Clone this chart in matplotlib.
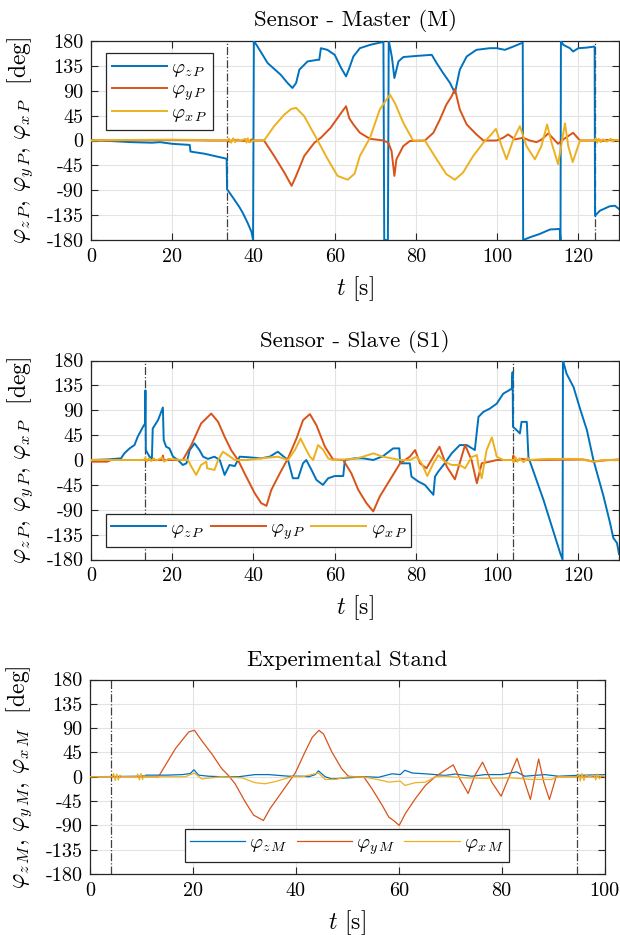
import matplotlib
matplotlib.use("Agg")
import matplotlib.pyplot as plt

plt.rcParams['font.family'] = ['cmr10', 'DejaVu Serif']
plt.rcParams['mathtext.fontset'] = 'cm'
plt.rcParams['axes.unicode_minus'] = False
plt.rcParams['axes.formatter.use_mathtext'] = True

C_BLUE = '#0072BD'
C_RED = '#D95319'
C_YEL = '#EDB120'

yticks = [180, 135, 90, 45, 0, -45, -90, -135, -180]
ytick_labels = ['180', '135', '90', '45', '0', '-45', '-90', '-135', '-180']
xticks_sensor = [0, 20, 40, 60, 80, 100, 120]
xticks_stand = [0, 20, 40, 60, 80, 100]

# ---------------- Panel 1: Sensor - Master (M) ----------------
m_z_t = [0, 5, 10, 15, 17, 19, 20, 24.3, 24.5, 28, 33.4, 33.5, 35.2, 36.5, 37.3, 38.5, 39.5, 39.9, 40.1, 41, 43.5,
         46.7, 48.4, 49.6, 50.5, 51.3, 53.3, 55.8, 56.2, 56.6, 58.2, 60, 61.6, 62.8, 63.6, 64.6, 66.2, 68.7, 71.1,
         72, 72.2, 73.1, 73.3, 73.6, 74.1, 74.7, 75.7, 76.9, 80.2, 83.9, 85.1, 86.7, 88.4, 89.6, 90.8, 92.5, 94.9,
         98.2, 99.9, 101.9, 104, 106.3, 106.4, 108.1, 110.5, 113, 115.4, 115.6, 115.7, 116.3, 117.9, 118.7, 120,
         122, 124, 124.1, 125.3, 127.7, 129, 130]
m_z_v = [0, -1, -3, -4, -3, -5, -6, -8, -20, -24, -33, -88, -106, -120, -130, -148, -165, -180, 180, 170, 140,
         119, 104, 95, 104, 128, 143, 146, 146, 167, 164, 155, 131, 116, 131, 152, 167, 173, 177,
         178, -180, -180, 180, 170, 150, 113, 143, 151, 153, 155, 140, 122, 104, 86, 128, 152, 164,
         167, 167, 164, 170, 177, -180, -175, -169, -161, -160, -180, 180, 173, 167, 161, 167,
         168, 170, -136, -127, -119, -118, -124]

m_y_t = [0, 10, 20, 30, 33.5, 34, 35, 38, 38.5, 39, 39.5, 40, 42.6, 45.1, 47.6, 49.4, 50.5, 52.5, 55, 56.6, 59,
         61.6, 62.8, 63.6, 64.6, 66.2, 68.7, 72, 73.2, 74, 74.7, 75.2, 76.9, 78.5, 82.2, 84.3, 85.9, 87.5, 88.8,
         89.6, 90.8, 92.5, 94.9, 96.6, 99.9, 101.5, 102.7, 104.4, 106.4, 108, 109.7, 111, 112.6, 115, 116.3,
         118.7, 120.4, 124, 125, 126, 127, 130]
m_y_v = [0, 0.5, 1, 0, 0, -2, 1, -1, 2, -3, 2, 0, 0, -28, -58, -82, -64, -28, -4, 5, 23,
         50, 62, 40, 29, 14, 3, 0, -4, -19, -64, -34, -10, -1, 0, 14, 38, 65, 80,
         93, 56, 29, 11, 0, 0, 5, 11, 2, 5, 0, -3, 2, 13, -6, 2,
         14, 0, 0, 1, -1, 1, 0]

m_x_t = [0, 10, 20, 30, 33.5, 34, 34.5, 35, 35.5, 36, 37, 38, 38.3, 38.6, 39, 40, 42.6, 45.1, 47.6, 49.3, 50.5,
         52.5, 55.8, 58.3, 60.7, 63.2, 64.9, 66.2, 68.7, 71.1, 73.6, 74.8, 76.9, 79.3, 82.2, 85.1, 87.5, 89.6,
         91.6, 94.1, 96.6, 98.2, 99.7, 101.1, 102.3, 104, 105.6, 107.2, 109.3, 110.9, 112.3, 113.4, 115, 116.7,
         117.5, 118.6, 120.4, 124, 124.3, 124.6, 125, 125.5, 126, 127, 128, 128.5, 129, 130]
m_x_v = [0, 1, 1.5, 0.5, 0, 3, -4, 4, -3, 2, 0, 3, -4, 4, -3, 0, 0, 26, 47, 57, 59,
         44, 0, -34, -64, -71, -60, -28, 5, 56, 83, 68, 32, 0, 0, -34, -61, -71,
         -58, -28, -4, 8, 21, -10, -34, 2, 26, -10, -34, -10, 29, -4, -43, 31,
         -10, -39, 0, 0, 4, -4, 3, -3, 2, -2, 3, -2, 1, 0]
m_marks = [33.5, 124]

# ---------------- Panel 2: Sensor - Slave (S1) ----------------
s_z_t = [0, 4.1, 7.4, 8.2, 9.5, 10.7, 11.5, 12.8, 13.3, 13.4, 13.5, 14.4, 15, 15.2, 16.5, 17.7, 17.9, 18.5, 19.3,
         20.2, 21.4, 22.6, 23.5, 24.3, 25.5, 26.7, 27.6, 28.8, 30.4, 31.7, 32.9, 34.1, 35.4, 36.6, 38.7, 41.9, 44,
         46, 47.3, 48.5, 49.7, 51, 52.2, 53, 54.3, 55.5, 57.1, 58.4, 60, 62.1, 62.5, 64.9, 67, 69.5, 71.9, 74.4,
         75.9, 76.1, 78.5, 78.9, 80.6, 82.2, 84.3, 84.7, 85.5, 87.1, 88.8, 90.8, 92.5, 94.5, 95.4, 96.6, 98.2,
         99.9, 101.5, 103.6, 103.8, 103.9, 104.8, 105.6, 106, 107.3, 107.7, 111.4, 115.5, 116.1, 116.2, 117.1,
         118.8, 120.4, 122.1, 123.7, 126.2, 127.8, 128.6, 129.5, 130]
s_z_v = [0, 1, 3, 12, 21, 27, 42, 60, 66, 126, 18, 6, 3, 57, 72, 95, 36, 24, 21,
         6, 0, -9, -6, 18, 30, 18, 6, 2, 6, 0, -27, -9, -11, 6, 5, 3, 6,
         15, 7, 0, -33, -33, -6, 0, -18, -36, -45, -33, -29, -29, 0, 3, 3, 0, 7, 21,
         21, -6, -6, -30, -39, -45, -63, -30, -21, -6, 12, 27, 27, 18, 78, 87, 93,
         102, 120, 129, 159, 60, 54, 48, 69, 69, 5, -72, -168, -180, 180, 156,
         132, 93, 54, 0, -66, -114, -141, -150, -170]

s_y_t = [0, 4, 5, 17.5, 17.7, 17.9, 22.6, 24.7, 27.1, 29.6, 31.3, 32.9, 34.5, 36.2, 37.8, 40.3, 41.9, 43.2, 44.4,
         46.5, 48.5, 50.6, 52.2, 53.9, 55.5, 57.6, 59.6, 62.1, 64.1, 65.8, 67.8, 69.5, 71.1, 73.6, 76.1, 78.5,
         79.8, 81, 82.6, 84.3, 85.8, 87.6, 89.6, 92.1, 93.7, 95, 96.2, 98.2, 99.9, 103.8, 104, 104.3, 106,
         108.1, 121.2, 123.7, 126, 130]
s_y_v = [-3, -3, 0, 0, 8, 0, 0, 27, 66, 84, 69, 42, 18, 0, -24, -60, -78, -83, -54,
         -24, 3, 39, 72, 83, 63, 24, 1, 0, -24, -54, -78, -93, -66, -36, -6, 6,
         18, -6, -15, 6, 24, -12, -35, 27, 0, -42, -6, -3, 0, 0, 8, -2, 2,
         0, 1, -3, -1, 1]

s_x_t = [0, 13, 13.4, 13.7, 14.2, 14.8, 15.5, 16, 17.5, 18, 19, 22.6, 23.9, 24.7, 25.9, 27.1, 28.4, 28.6, 30.4,
         31.3, 32.5, 33.7, 35.4, 38.7, 41.9, 46, 48.5, 50.2, 51.6, 52.6, 53.9, 54.7, 55.9, 57.1, 58.4, 59.6, 64.9,
         67, 69.5, 71.9, 76.1, 78.5, 80.2, 81.4, 82.8, 84.3, 85.5, 87.1, 88.8, 90.8, 92.1, 93.7, 95, 95.4, 96.2,
         97.4, 98.7, 99.9, 101.5, 103.8, 104, 104.5, 105, 105.5, 106.5, 107.5, 108, 112, 120, 123.7, 126, 130]
s_x_v = [0, 0, 4, -3, 3, -2, 3, -1, 4, -3, 2, 0, 0, -12, -27, -9, -3, -15, -18,
         0, 15, 9, 0, 0, 3, 6, 0, 18, 39, 24, 6, 0, 27, 19, 3, 0, 2,
         6, 12, 6, 0, 0, 6, -6, -29, -6, 9, -3, -9, -9, -15, 5, 9, -10, -33,
         18, 41, 6, 0, 0, -4, 5, -3, 3, -4, 4, 0, 2, 2, -3, 0, 0]
s_marks = [13.4, 103.8]

# ---------------- Panel 3: Experimental Stand ----------------
e_z_t = [0, 10, 11, 15, 18, 19.5, 20.2, 21.1, 23, 25.6, 28.9, 32.1, 34.7, 38.6, 41.2, 42.5, 43.8, 44.4, 45.7, 47,
         50.2, 53.5, 56.1, 58.7, 60.3, 61.2, 62.6, 65.8, 69, 71, 74.2, 76.8, 80, 82.9, 84.5, 88.4, 91, 94.6, 100]
e_z_v = [0, 1, 3, 3, 4, 6, 13, 3, 1, 0, 0, 4, 4, 1, 1, 0, 4, 11, 0, -4,
         -2, 0, -1, 5.5, 4, 12, 7, 5, 2.5, 5, 1, 4, 4, 9, 1, 4, 1, 2.5, 4]

e_y_t = [0, 13.3, 16.6, 19.2, 20.3, 21.7, 23.7, 25.6, 26.9, 28.2, 30.2, 31.8, 33.7, 35, 37.3, 39.9, 41.8, 43.2,
         44.5, 45.4, 47, 48.9, 50.2, 51.6, 53.2, 54.8, 56.8, 58.1, 59, 60.1, 61.3, 63.2, 65.2, 67.1, 69, 70.6,
         71.9, 73.5, 74.8, 76.3, 78.1, 79.9, 81.3, 83, 85.6, 87.2, 88.2, 89.3, 90.6, 100]
e_y_v = [0, 0, 52, 83, 86, 67, 42, 15, 2.5, -13, -47, -71, -81, -59, -28, 7, 46, 73,
         86, 79, 46, 15, 1, 0, 0, -22, -53, -75, -81, -90, -68, -41, -16, 0, 12, 22,
         -4, -31, 2.5, 27, -10, -36, -4, 34, -42, 33, -10, -42, 0, 0]

e_x_t = [0, 4.3, 4.6, 4.9, 5.2, 5.5, 5.8, 6.2, 9, 9.3, 9.6, 9.9, 10.2, 10.5, 11, 18.5, 20.3, 21.7, 25.6, 29.5,
         32.1, 34, 36, 39.2, 41.2, 44.4, 45.7, 47.6, 50.2, 53.5, 56.1, 58.1, 60.3, 61.2, 63.2, 65.2, 67.1, 69,
         72.9, 76.8, 81.9, 85.8, 89.7, 91, 94.6, 95, 95.3, 95.6, 96, 96.4, 97, 98, 98.3, 98.6, 99, 99.5, 100]
e_x_v = [0, 0, 6, -7, 5, -6, 3, 0, 0, 5, -6, 6, -5, 2, 0, 0, 7, -4, 0, -2,
         -11, -13, -9, 0, 0, 7, -5, -5, 0, -1, -5.5, -10, -8, -16, -11, -10, 0, 1,
         -2, -3, -2, -5, -5, 0, 0, 5, -8, 6, -7, 4, 0, 3, -6, 5, -4, 3, 0]
e_marks = [4.1, 94.6]

# ---------------- figure ----------------
fig = plt.figure(figsize=(6.2, 9.35), dpi=100)
W, H = 620.0, 935.0


def make_ax(left, right, top, bottom):
    return fig.add_axes([left / W, 1 - bottom / H, (right - left) / W, (bottom - top) / H])


ax1 = make_ax(91, 619, 41, 240)
ax2 = make_ax(91, 619, 360.5, 559.5)
ax3 = make_ax(90, 604.5, 679.5, 874)

FS_TICK = 14.5
FS_TITLE = 16.5
FS_LABEL = 17
FS_LEG = 14.5


def style(ax, xmax, xticks, title, ylab, title_gap):
    ax.set_xlim(0, xmax)
    ax.set_ylim(-180, 180)
    ax.set_yticks(yticks)
    ax.set_yticklabels(ytick_labels)
    ax.set_xticks(xticks)
    ax.set_xticklabels([str(v) for v in xticks])
    ax.grid(True, color='#e3e3e3', linewidth=0.8)
    ax.set_axisbelow(True)
    for sp in ax.spines.values():
        sp.set_color('#262626')
        sp.set_linewidth(0.9)
    ax.tick_params(direction='in', length=5, width=0.8, color='#262626', labelsize=FS_TICK,
                   top=True, right=True, pad=5.5, labelcolor='black')
    ax.set_title(title, fontsize=FS_TITLE, pad=title_gap)
    h_px = ax.get_position().height * H
    ax.set_xlabel(r'$t$ [s]', fontsize=FS_LABEL)
    ax.xaxis.set_label_coords(0.5, -34.0 / h_px)
    ax.set_ylabel(ylab, fontsize=FS_LABEL)
    w_px = ax.get_position().width * W
    ax.yaxis.set_label_coords(-56.0 / w_px, 0.5)


def legend(ax, **kw):
    leg = ax.legend(fontsize=FS_LEG, frameon=True, fancybox=False, edgecolor='#262626', framealpha=1,
                    borderaxespad=0, handlelength=2.75, handletextpad=0.2, **kw)
    leg.get_frame().set_linewidth(0.9)
    return leg


lab_P = [r'$\varphi_{z\,P}$', r'$\varphi_{y\,P}$', r'$\varphi_{x\,P}$']
lab_M = [r'$\varphi_{z\,M}$', r'$\varphi_{y\,M}$', r'$\varphi_{x\,M}$']
ylab_P = r'$\varphi_{z\,P}$, $\varphi_{y\,P}$, $\varphi_{x\,P}$  [deg]'
ylab_M = r'$\varphi_{z\,M}$, $\varphi_{y\,M}$, $\varphi_{x\,M}$  [deg]'

# Panel 1
for t in m_marks:
    ax1.axvline(t, color='#404040', linestyle='-.', linewidth=0.9, zorder=1)
ax1.plot(m_z_t, m_z_v, color=C_BLUE, lw=1.4, label=lab_P[0], zorder=3)
ax1.plot(m_y_t, m_y_v, color=C_RED, lw=1.4, label=lab_P[1], zorder=3)
ax1.plot(m_x_t, m_x_v, color=C_YEL, lw=1.4, label=lab_P[2], zorder=3)
style(ax1, 130, xticks_sensor, 'Sensor - Master (M)', ylab_P, 11)
legend(ax1, loc='upper left', bbox_to_anchor=(0.0284, 0.938), borderpad=0.3, labelspacing=0.05)

# Panel 2
for t in s_marks:
    ax2.axvline(t, color='#404040', linestyle='-.', linewidth=0.9, zorder=1)
ax2.plot(s_z_t, s_z_v, color=C_BLUE, lw=1.4, label=lab_P[0], zorder=3)
ax2.plot(s_y_t, s_y_v, color=C_RED, lw=1.4, label=lab_P[1], zorder=3)
ax2.plot(s_x_t, s_x_v, color=C_YEL, lw=1.4, label=lab_P[2], zorder=3)
style(ax2, 130, xticks_sensor, 'Sensor - Slave (S1)', ylab_P, 9.5)
legend(ax2, loc='lower left', bbox_to_anchor=(0.0284, 0.063), ncol=3, borderpad=0.25, columnspacing=0.3)

# Panel 3
for t in e_marks:
    ax3.axvline(t, color='#404040', linestyle='-.', linewidth=0.9, zorder=1)
ax3.plot(e_z_t, e_z_v, color=C_BLUE, lw=0.9, label=lab_M[0], zorder=3)
ax3.plot(e_y_t, e_y_v, color=C_RED, lw=0.9, label=lab_M[1], zorder=3)
ax3.plot(e_x_t, e_x_v, color=C_YEL, lw=0.9, label=lab_M[2], zorder=3)
style(ax3, 100, xticks_stand, 'Experimental Stand', ylab_M, 9.5)
legend(ax3, loc='lower center', bbox_to_anchor=(0.499, 0.063), ncol=3, borderpad=0.25, columnspacing=0.45)

fig.savefig('out.png', dpi=100)
